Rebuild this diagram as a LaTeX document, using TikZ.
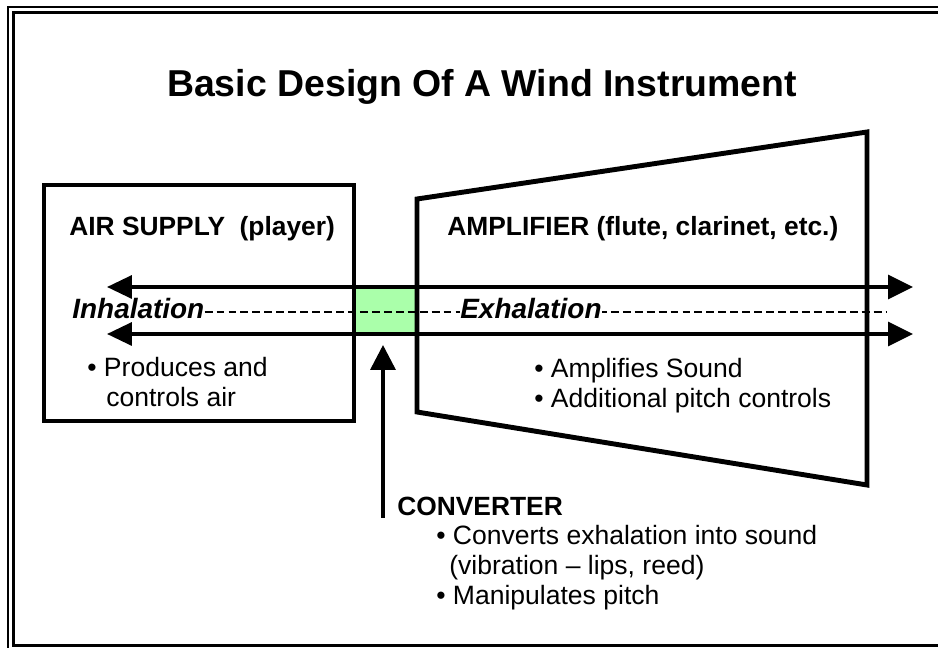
\documentclass[tikz,border=0pt]{standalone}
\usepackage{fontspec}
\setmainfont{Liberation Sans}
\usepackage{tikz}
\usetikzlibrary{arrows.meta, positioning}
\definecolor{convgreen}{RGB}{170,255,170}
\definecolor{inkblack}{RGB}{0,0,0}
\tikzset{
  boxline/.style={line width=2.8pt, color=inkblack, line join=miter},
  flow/.style={{Triangle[length=0.5cm,width=0.46cm]}-{Triangle[length=0.5cm,width=0.48cm]},
    line width=2pt, color=inkblack},
  uparrow/.style={-{Triangle[length=0.5cm,width=0.5cm]}, line width=2pt, color=inkblack},
  breathline/.style={dashed, dash pattern=on 4.5pt off 2.3pt, line width=1.3pt, color=inkblack},
  heading/.style={font=\fontsize{15}{18}\selectfont\bfseries, anchor=base west, inner sep=0pt},
  bullets/.style={font=\fontsize{15.1}{18}\selectfont, anchor=base west, inner sep=0pt},
  breath/.style={font=\fontsize{15.9}{19}\selectfont\bfseries\itshape, anchor=base west, inner sep=0pt}
}

\begin{document}
\begin{tikzpicture}[x=0.02cm, y=-0.02cm,
  title/.style={font=\fontsize{21.3}{25}\selectfont\bfseries, anchor=base, inner sep=0pt}]
\useasboundingbox (0,0) rectangle (938,648);
\clip (0,0) rectangle (938,648);
% slide frame
\draw[line width=1.1pt] (8.3,7) rectangle (970,652);
\draw[line width=1.6pt] (13.3,12.3) rectangle (965,645.8);
\node[title] (title) at (482,97) {Basic Design Of A Wind Instrument};
% converter (between player and instrument)
\fill[convgreen] (354,288) rectangle (417,333);
% breath line
\coordinate (dashR) at (887,312);
\node[breath] (inh) at (72,319) {Inhalation};
\draw[breathline] (inh.east |- dashR) -- (dashR);
\node[breath, fill=white] (exh) at (460,319) {Exhalation};
% air flow
\coordinate (topL) at (107,287);
\coordinate (topR) at (913,287);
\coordinate (botL) at (107,334);
\coordinate (botR) at (913,334);
\draw[flow] (topL) -- (topR);
\draw[flow] (botL) -- (botR);
% air supply
\draw[boxline] (44,185) rectangle (354,421);
\node[heading] (air) at (69,236) {AIR SUPPLY\ \ (player)};
\node[bullets] (air1) at (87,377) {\textbullet\ Produces and};
\node[bullets] (air2) at (106,407) {controls air};
% amplifier
\draw[boxline] (417,199) -- (867,132) -- (867,485) -- (417,412) -- cycle;
\node[heading] (amp) at (447,236) {AMPLIFIER (flute, clarinet, etc.)};
\node[bullets] (amp1) at (534,378) {\textbullet\ Amplifies Sound};
\node[bullets] (amp2) at (534,408) {\textbullet\ Additional pitch controls};
% converter
\coordinate (convfoot) at (383,518);
\coordinate (convtip) at (383,345);
\draw[uparrow] (convfoot) -- (convtip);
\node[heading] (conv) at (397,516) {CONVERTER};
\node[bullets] (conv1) at (436,545) {\textbullet\ Converts exhalation into sound};
\node[bullets] (conv2) at (449,575) {(vibration -- lips, reed)};
\node[bullets] (conv3) at (436,605) {\textbullet\ Manipulates pitch};
\end{tikzpicture}
\end{document}
